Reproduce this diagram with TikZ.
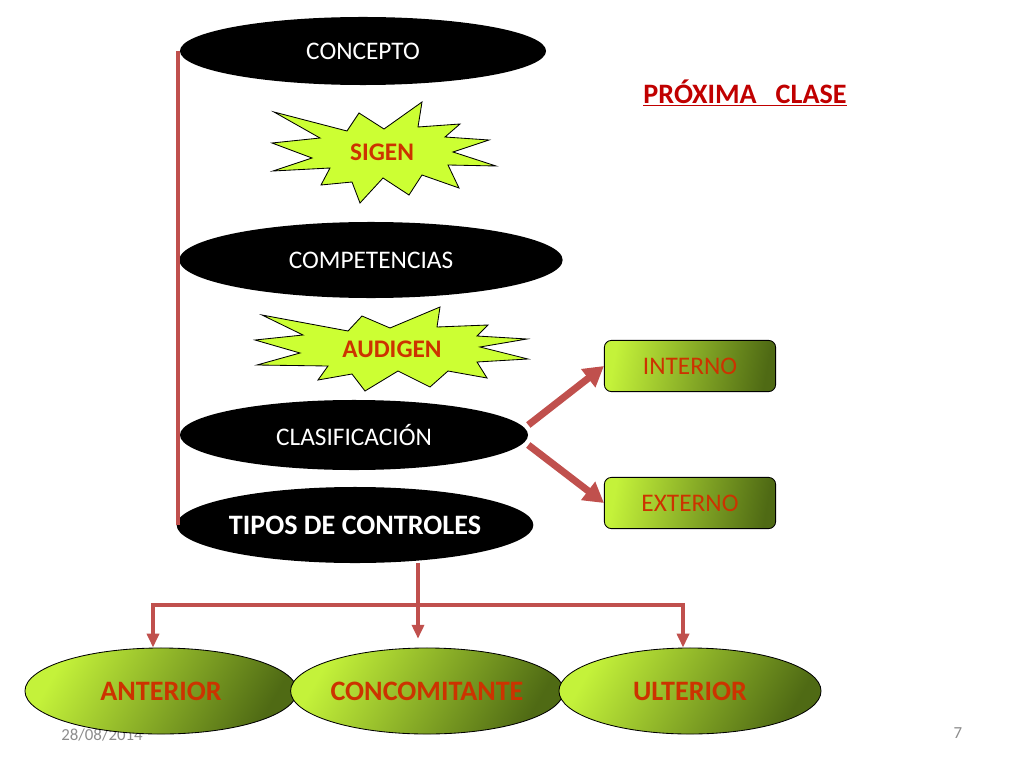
\documentclass[tikz,border=0pt]{standalone}
\usepackage{fontspec}
\setmainfont{Carlito}
\usetikzlibrary{shapes.geometric,arrows.meta}

\definecolor{rojo}{HTML}{C0504D}
\definecolor{rojot}{HTML}{C00000}
\definecolor{naranja}{HTML}{CC3300}
\definecolor{verdeclaro}{HTML}{C4F23A}
\definecolor{verdeoscuro}{HTML}{4F6A14}
\definecolor{lima}{HTML}{CCFF33}
\definecolor{gris}{HTML}{8C8C8C}

\begin{document}
\begin{tikzpicture}[x=0.025cm, y=-0.025cm,
    negro/.style={ellipse, fill=black, text=white, inner sep=0pt, font=\fontsize{18}{21}\selectfont},
    estrella/.style={fill=lima, draw=black, line width=0.6pt, line join=miter},
    rotulo/.style={text=naranja, font=\fontsize{18}{21}\selectfont\bfseries},
    caja/.style={rectangle, rounded corners=5pt, draw=black, line width=0.6pt, left color=verdeclaro, right color=verdeoscuro, shading angle=80, minimum width=4.28cm, minimum height=1.28cm, text=naranja, font=\fontsize{18}{21}\selectfont},
    hoja/.style={ellipse, draw=black, line width=0.6pt, left color=verdeclaro, right color=verdeoscuro, shading angle=60, minimum height=2.15cm, text=naranja, font=\fontsize{20}{24}\selectfont\bfseries, inner sep=0pt},
    flecha/.style={rojo, line width=5pt, -{Triangle[length=0.5cm, width=0.55cm]}},
    linea/.style={rojo, line width=2.5pt}]
    \useasboundingbox (0,0) rectangle (1024,768);

    % 日期与页码
    \node[text=gris, font=\fontsize{12}{14}\selectfont] (fecha) at (102,735) {28/08/2014};
    \node[text=gris, font=\fontsize{12}{14}\selectfont] (pagina) at (958,733) {7};

    % 星形
    \draw[estrella] (274,112) -- (347,131) -- (359,113) -- (384,129) -- (422,102) -- (418,127)
        -- (460,124) -- (445,137) -- (489,140) -- (453,152) -- (496,166) -- (448,165)
        -- (459,188) -- (422,175) -- (409,195) -- (383,178) -- (360,203) -- (352,182)
        -- (321,185) -- (330,168) -- (273,171) -- (312,158) -- (272,143) -- (320,138) -- cycle;
    \draw[estrella] (262,315) -- (348,331) -- (362,316) -- (390,328) -- (440,307) -- (437,327)
        -- (488,325) -- (477,336) -- (527,339) -- (480,347) -- (528,359) -- (477,362)
        -- (487,378) -- (448,371) -- (430,387) -- (398,371) -- (365,391) -- (352,374)
        -- (318,380) -- (328,366) -- (257,365) -- (300,353) -- (255,340) -- (303,335) -- cycle;
    \node[rotulo] (sigen) at (382,152) {SIGEN};
    \node[rotulo] (audigen) at (392,349) {AUDIGEN};

    % 左列
    \node[negro, minimum width=9.15cm, minimum height=1.7cm] (concepto) at (363,51) {CONCEPTO};
    \node[negro, minimum width=9.58cm, minimum height=1.9cm] (competencias) at (371,260) {COMPETENCIAS};
    \node[negro, minimum width=8.7cm, minimum height=1.75cm] (clasificacion) at (354,435) {CLASIFICACIÓN};
    \node[negro, minimum width=8.75cm, minimum height=1.9cm, font=\fontsize{20}{24}\selectfont\bfseries] (tipos) at (355,525) {TIPOS DE CONTROLES};
    \draw[rojo, line width=2.8pt] ([xshift=-1pt]concepto.west) -- ([xshift=-1pt]concepto.west |- tipos.west);

    % 标题
    \node[text=rojot, font=\fontsize{20}{24}\selectfont\bfseries] (proxima) at (745,93) {\underline{PRÓXIMA~~~CLASE}};

    % 分类
    \node[caja] (interno) at (690,366) {INTERNO};
    \node[caja] (externo) at (690,503) {EXTERNO};
    \draw[flecha] ([yshift=0.25cm]clasificacion.east) -- (interno.west);
    \draw[flecha] ([yshift=-0.25cm]clasificacion.east) -- (externo.west);

    % 控制类型
    \node[hoja, minimum width=6.8cm] (anterior) at (161,691) {ANTERIOR};
    \node[hoja, minimum width=6.8cm] (concomitante) at (427,691) {CONCOMITANTE};
    \node[hoja, minimum width=6.55cm] (ulterior) at (690,691) {ULTERIOR};
    \coordinate (rama) at (418,605);
    \coordinate (izq) at (153,605);
    \coordinate (der) at (683,605);
    \draw[linea] (tipos.south -| rama) -- (rama);
    \draw[linea, -{Triangle[length=0.35cm, width=0.3cm]}, shorten >=0.22cm] (rama) -- (rama |- concomitante.north);
    \draw[linea, {Triangle[length=0.35cm, width=0.3cm]}-{Triangle[length=0.35cm, width=0.3cm]}] (izq |- anterior.north) -- (izq) -- (der) -- (der |- ulterior.north);
\end{tikzpicture}
\end{document}
